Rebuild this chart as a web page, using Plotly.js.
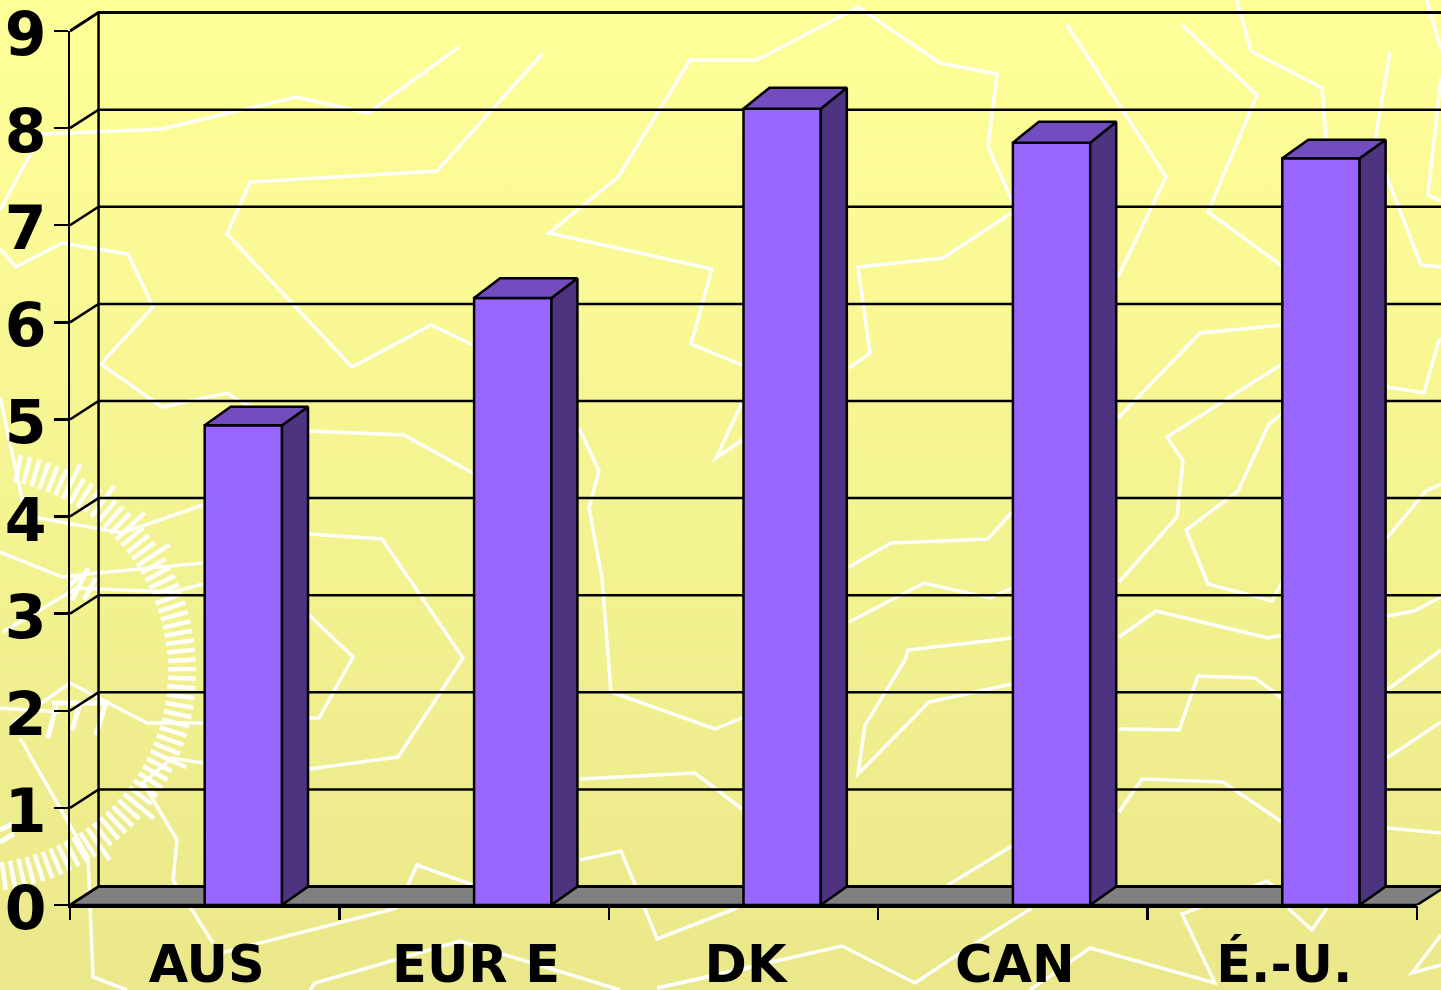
<!DOCTYPE html>
<html><head><meta charset="utf-8">
<script src="https://cdn.plot.ly/plotly-3.0.1.min.js"></script>
<style>
html,body{margin:0;padding:0;width:1441px;height:990px;overflow:hidden;background:linear-gradient(to bottom,#FFFF99 0%,#EAE88A 100%);}
#chart{width:1441px;height:990px;}
</style></head><body><div id="chart"></div>
<script>
// ---- chart data ----
const categories = ["AUS","EUR E","DK","CAN","É.-U."];
const values = [4.94,6.25,8.2,7.85,7.69];
const yTicks = [0,1,2,3,4,5,6,7,8,9];

// ---- 3-D look and frame ----
const W = 1441, H = 990;
const M = {l:70,r:0,t:10,b:85};
const frontW = 1347, frontH = 874;       // size of the front plane
const barWidth = 0.287;
const wallDx = 0.106, wallDy = 0.19;
const barDx = 0.0965, barDyBase = 0.19;
const barDyTop = [0.19,0.205,0.215,0.215,0.19];
const FRONT='#9966FF', SIDE='#4D3380', TOP='#734DBF', FLOOR='#808080';

// ---- decorative background (page pixels), not chart data ----
const decor = [
[[0,210],[30,155],[43,134],[162,129],[296,97],[368,113],[459,47]],
[[0,249],[16,267],[62,243],[128,254],[153,307],[101,364],[162,407],[227,393],[250,407],[308,431],[404,435],[473,473],[580,430],[599,471],[589,508],[602,578],[611,692],[715,729],[742,718]],
[[543,53],[437,171],[250,182],[227,234],[352,367],[431,325],[473,345]],
[[1013,203],[988,147],[997,74],[940,63],[858,7],[757,60],[690,60],[618,177],[549,233],[712,269],[691,344],[742,365]],
[[1013,212],[943,258],[858,267],[870,353],[849,368]],
[[742,403],[716,458],[742,440]],
[[1067,25],[1166,177],[1118,277]],
[[1182,25],[1257,95],[1208,212],[1282,266]],
[[1237,0],[1251,51],[1322,88],[1326,140]],
[[1390,52],[1375,140],[1387,177],[1421,265],[1441,267]],
[[1427,0],[1441,50]],
[[1441,77],[1428,195],[1441,201]],
[[1387,387],[1424,393],[1439,340],[1441,340]],
[[1118,418],[1200,333],[1283,325]],
[[1282,364],[1167,437],[1183,461],[1177,517],[1119,582]],
[[1282,414],[1269,424],[1238,491],[1186,530],[1208,584],[1272,601],[1282,582]],
[[1387,538],[1426,491],[1441,484]],
[[849,567],[891,543],[988,539],[1012,512]],
[[849,622],[924,583],[990,598],[1012,588]],
[[1119,637],[1156,611],[1268,638],[1282,635]],
[[1387,616],[1414,611],[1441,597]],
[[905,660],[908,650],[1012,638]],
[[905,660],[865,725],[858,774],[929,702],[1012,684]],
[[1119,729],[1179,730],[1198,676],[1255,678],[1282,698]],
[[1119,812],[1142,779],[1223,782],[1282,822]],
[[948,885],[1012,846]],
[[1032,908],[960,953],[915,983],[842,946],[657,988]],
[[1030,990],[1090,948],[1215,983],[1182,914],[1267,881],[1282,893]],
[[1288,908],[1312,930],[1327,908]],
[[1387,758],[1441,722]],
[[1387,690],[1441,650]],
[[1387,828],[1441,833]],
[[1441,935],[1412,973],[1441,965]],
[[309,534],[382,539],[463,658],[398,757],[309,769]],
[[309,615],[353,657],[319,718],[309,718]],
[[0,397],[23,503],[33,517],[122,533],[203,505]],
[[0,552],[62,577],[97,573],[203,563]],
[[3,632],[77,588],[173,592],[203,584]],
[[0,708],[60,712]],
[[13,723],[70,683],[147,723],[203,723]],
[[20,738],[88,857],[93,977],[127,990]],
[[203,763],[172,758],[143,783],[177,840],[173,880],[213,943]],
[[213,955],[397,908]],
[[310,990],[315,983],[460,941],[620,990]],
[[657,988],[750,968]],
[[407,887],[417,865],[473,885]],
[[580,860],[621,851],[636,887],[657,939],[737,908]],
[[580,779],[695,773],[742,809]]
];
const dialMarks = [
[[68,587],[80,575]],[[72,600],[88,568]],[[84,600],[96,578]],
[[48,738],[56,706]],[[72,730],[80,704]],[[96,735],[106,702]],[[52,703],[110,703]],
[[0,830],[12,824]],[[0,842],[14,834]]
];

const plotW = W-M.l-M.r, plotH = H-M.t-M.b;
function px(x){return (x-M.l)/plotW;}
function py(y){return (H-M.b-y)/plotH;}
function pathOf(pts){return pts.map((p,i)=>(i?'L':'M')+px(p[0]).toFixed(5)+','+py(p[1]).toFixed(5)).join(' ');}

const shapes = decor.map(p=>({type:'path',xref:'paper',yref:'paper',layer:'below',path:pathOf(p),
  line:{color:'rgba(255,255,255,0.95)',width:3.5}}));
dialMarks.forEach(p=>shapes.push({type:'path',xref:'paper',yref:'paper',layer:'below',path:pathOf(p),
  line:{color:'rgba(255,255,255,0.95)',width:5}}));
// dial ring
const cx=-25, cy=671;
for(let a=-102;a<=80;a+=2.5){
  const long = [62,52,42,32,-25,-40,-54].some(v=>Math.abs(v-a)<1.3);
  const r0=193, r1= long?232:221, t=a*Math.PI/180;
  shapes.push({type:'path',xref:'paper',yref:'paper',layer:'below',
    path:pathOf([[cx+r0*Math.cos(t),cy-r0*Math.sin(t)],[cx+r1*Math.cos(t),cy-r1*Math.sin(t)]]),
    line:{color:'rgba(255,255,255,0.95)',width:4.5}});
}

// ---- traces ----
const xIdx = categories.map((_,i)=>i);
const xLeft=-0.5, xRight=categories.length-0.5;
const yMax = yTicks[yTicks.length-1];
const unitX = frontW/categories.length, unitY = frontH/yMax;
const wallXMax = xLeft + plotW/unitX, wallYMax = plotH/unitY;

// back wall gridlines (first subplot, drawn underneath)
const gx=[],gy=[];
yTicks.slice(0,-1).forEach(k=>{
  gx.push(xLeft,xLeft+wallDx,xRight+wallDx,null);
  gy.push(k,k+wallDy,k+wallDy,null);
});
gx.push(xLeft+wallDx,xLeft+wallDx); gy.push(wallDy,yMax+wallDy);

const base = {mode:'lines',hoverinfo:'skip',showlegend:false};
const floor = {...base,x:[xLeft,xLeft+wallDx,xRight+wallDx,xRight,xLeft],y:[0,wallDy,wallDy,0,0],
  fill:'toself',fillcolor:FLOOR,line:{color:'#000',width:2.5},xaxis:'x',yaxis:'y'};
const wall = {...base,x:gx,y:gy,line:{color:'#000',width:2.5},xaxis:'x',yaxis:'y'};
const wallTop = {...base,x:[xLeft,xLeft+wallDx,xRight+wallDx],y:[yMax,yMax+wallDy,yMax+wallDy],line:{color:'#000',width:3},xaxis:'x',yaxis:'y'};
const floorBack = {...base,x:[xLeft+wallDx,xRight+wallDx],y:[wallDy,wallDy],line:{color:'#000',width:3},xaxis:'x',yaxis:'y'};

const bars = {type:'bar',x:xIdx,y:values,offset:0,width:barWidth,
  marker:{color:FRONT,line:{color:'#000',width:2.5}},hoverinfo:'skip',showlegend:false,xaxis:'x2',yaxis:'y2'};

const sx=[],sy=[],tx=[],ty=[];
values.forEach((v,i)=>{
  const r=i+barWidth, d=barDyTop[i];
  sx.push(r,r,r+barDx,r+barDx,r,null);
  sy.push(0,v,v+d,barDyBase,0,null);
  tx.push(i,i+barDx,r+barDx,r,i,null);
  ty.push(v,v+d,v+d,v,v,null);
});
const sides = {...base,x:sx,y:sy,fill:'toself',fillcolor:SIDE,line:{color:'#000',width:2.5},xaxis:'x2',yaxis:'y2'};
const tops = {...base,x:tx,y:ty,fill:'toself',fillcolor:TOP,line:{color:'#000',width:2.5},xaxis:'x2',yaxis:'y2'};

const FONT='"DejaVu Sans", Verdana, sans-serif';
const boundaries=[]; for(let i=0;i<=categories.length;i++) boundaries.push(i-0.5);

const layout = {
  width:W,height:H,margin:M,autosize:false,showlegend:false,
  paper_bgcolor:'rgba(0,0,0,0)',plot_bgcolor:'rgba(0,0,0,0)',
  barmode:'overlay',shapes:shapes,
  // wall axes: same scale as the front plane, reaching further up and right
  xaxis:{type:'linear',domain:[0,1],range:[xLeft,wallXMax],anchor:'y',tickmode:'array',tickvals:boundaries,
    ticktext:boundaries.map(()=>''),ticks:'outside',ticklen:14,tickwidth:2.5,tickcolor:'#000',
    showgrid:false,zeroline:false,showline:false},
  yaxis:{type:'linear',domain:[0,1],range:[0,wallYMax],anchor:'x',visible:false,showgrid:false,zeroline:false},
  // front axes
  xaxis2:{type:'linear',domain:[0,frontW/plotW],range:[xLeft,xRight],anchor:'y2',tickmode:'array',tickvals:xIdx,ticktext:categories,
    ticks:'',showgrid:false,zeroline:false,showline:true,linecolor:'#000',linewidth:2.5,ticklabelstandoff:13,ticklabelshift:2,
    ticklabeloverflow:'allow',tickfont:{family:FONT,size:51,color:'#000',weight:'bold'}},
  yaxis2:{type:'linear',domain:[0,frontH/plotH],range:[0,yMax],anchor:'x2',tickmode:'array',tickvals:yTicks,ticktext:yTicks.map(String),
    ticks:'outside',ticklen:14,tickwidth:2.5,tickcolor:'#000',showgrid:false,zeroline:false,
    showline:true,linecolor:'#000',linewidth:2.5,ticklabelstandoff:-5,ticklabelshift:3,ticklabeloverflow:'allow',
    tickfont:{family:FONT,size:60,color:'#000',weight:'bold'}}
};
Plotly.newPlot('chart',[floor,wall,wallTop,floorBack,bars,sides,tops],layout,{displayModeBar:false,staticPlot:true});
</script></body></html>
